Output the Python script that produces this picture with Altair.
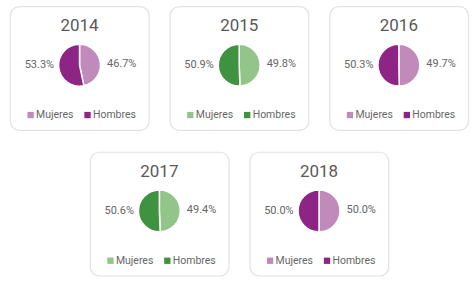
import altair as alt
import pandas as pd

years = ["2014", "2015", "2016", "2017", "2018"]
mujeres = [46.7, 49.8, 49.7, 49.4, 50.0]
hombres = [53.3, 50.9, 50.3, 50.6, 50.0]
light_colors = ["#c08bbb", "#93c58b", "#c08bbb", "#93c58b", "#c08bbb"]
dark_colors = ["#8e2585", "#3f923f", "#8e2585", "#3f923f", "#8e2585"]
sexes = ["Mujeres", "Hombres"]

FONT = "Roboto"
TXT = "#666666"
W, H = 139, 124
CX, CY = 69.5, 59
LEG_Y = 109
# legend layout per entry: (square centre x, label start x)
LEG_POS = {"Mujeres": (20.5, 26), "Hombres": (77.5, 83)}


def card(i):
    df = pd.DataFrame({
        "sexo": sexes,
        "valor": [mujeres[i], hombres[i]],
        "orden": [0, 1],
        "etiqueta": [f"{mujeres[i]:.1f}%", f"{hombres[i]:.1f}%"],
    })
    base = alt.Chart(df)
    color = alt.Color(
        "sexo:N",
        scale=alt.Scale(domain=sexes, range=[light_colors[i], dark_colors[i]]),
        legend=None,
    )
    arc = base.mark_arc(radius=21, stroke="white", strokeWidth=1.5).encode(
        theta=alt.Theta("valor:Q", stack=True),
        order=alt.Order("orden:Q"),
        color=color,
        x=alt.value(CX),
        y=alt.value(CY),
    )
    title = alt.Chart(pd.DataFrame({"anio": [years[i]]})).mark_text(
        fontSize=17, color="#595959", font=FONT, baseline="middle"
    ).encode(text="anio:N", x=alt.value(CX), y=alt.value(20))
    lab_m = base.transform_filter(alt.datum.sexo == "Mujeres").mark_text(
        align="left", baseline="middle", fontSize=11, color=TXT, font=FONT
    ).encode(text="etiqueta:N", x=alt.value(97), y=alt.value(58))
    lab_h = base.transform_filter(alt.datum.sexo == "Hombres").mark_text(
        align="right", baseline="middle", fontSize=11, color=TXT, font=FONT
    ).encode(text="etiqueta:N", x=alt.value(44), y=alt.value(59))
    layers = [arc, title, lab_m, lab_h]
    for s in sexes:
        sx, tx = LEG_POS[s]
        sub = base.transform_filter(alt.datum.sexo == s)
        layers.append(
            sub.mark_square(size=40, opacity=1, strokeWidth=0).encode(
                color=color, x=alt.value(sx), y=alt.value(LEG_Y)
            )
        )
        layers.append(
            sub.mark_text(
                align="left", baseline="middle", fontSize=10.5, color=TXT, font=FONT
            ).encode(text="sexo:N", x=alt.value(tx), y=alt.value(LEG_Y))
        )
    return alt.layer(*layers).properties(width=W, height=H)


row1 = alt.hconcat(card(0), card(1), card(2), spacing=19).resolve_scale(color="independent")
row2 = alt.hconcat(card(3), card(4), spacing=19).resolve_scale(color="independent")

chart = alt.vconcat(row1, row2, spacing=20, center=True).resolve_scale(
    color="independent"
).properties(
    padding={"left": 9, "top": 5, "right": 5, "bottom": 5},
    background="white",
).configure_view(
    stroke="#e2e2e2", strokeWidth=1.2, cornerRadius=9
)

chart.save("out.html", embed_options={"renderer": "svg", "actions": False})
